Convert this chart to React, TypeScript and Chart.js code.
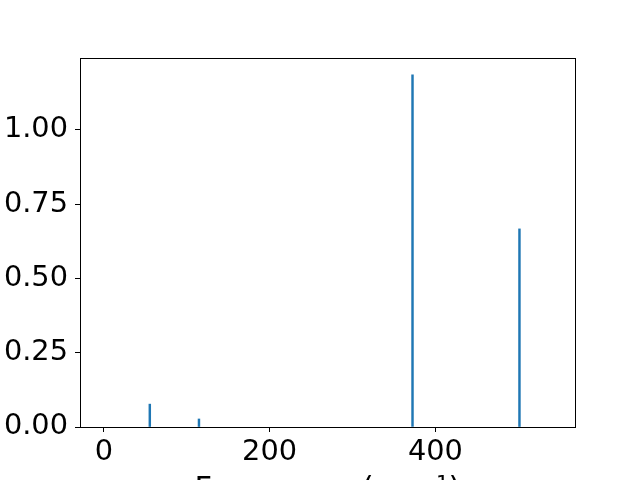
import React, { useEffect, useRef } from "react";
import { Chart, registerables } from "chart.js";

Chart.register(...registerables);

const frequencies = [55.5, 114.8, 372.4, 501.4];
const intensities = [0.077, 0.027, 1.186, 0.667];
const xTicks = [0, 200, 400];
const yTicks = [0, 0.25, 0.5, 0.75, 1.0];
const xLabel = "Frequency (cm⁻¹)";

const boxPlugin = {
  id: "box",
  afterDraw(chart: any) {
    const { ctx, chartArea } = chart;
    ctx.save();
    ctx.strokeStyle = "#000";
    ctx.lineWidth = 1;
    ctx.strokeRect(
      Math.round(chartArea.left) + 0.5,
      Math.round(chartArea.top) + 0.5,
      Math.round(chartArea.right - chartArea.left),
      Math.round(chartArea.bottom - chartArea.top)
    );
    ctx.restore();
  },
};

export default function App() {
  const ref = useRef<HTMLCanvasElement>(null);
  useEffect(() => {
    if (!ref.current) return;
    const font = { family: "DejaVu Sans", size: 28.8 };
    const titleFont = { family: "DejaVu Sans", size: 30.5 };
    const chart = new Chart(ref.current, {
      type: "bar",
      data: {
        datasets: [
          {
            data: frequencies.map((f, i) => ({ x: f, y: intensities[i] })),
            backgroundColor: "#1f77b4",
            borderWidth: 0,
            barThickness: 1.8,
          },
        ],
      },
      options: {
        responsive: false,
        animation: false,
        layout: { padding: { top: 58, right: 65, left: 0, bottom: 0 } },
        plugins: { legend: { display: false }, tooltip: { enabled: false } },
        scales: {
          x: {
            type: "linear",
            min: -28.7,
            max: 568.4,
            offset: false,
            afterBuildTicks: (s: any) => {
              s.ticks = xTicks.map((v) => ({ value: v }));
            },
            afterFit: (s: any) => {
              s.height = 81;
            },
            ticks: { font, color: "#000", padding: 3, maxRotation: 0, autoSkip: false },
            grid: { offset: false, drawOnChartArea: false, drawTicks: true, tickLength: 5, color: "#000" },
            border: { display: true, color: "#000" },
            title: { display: true, text: xLabel, font: titleFont, color: "#000", padding: 0 },
          },
          y: {
            type: "linear",
            min: 0,
            max: 1.2424,
            afterBuildTicks: (s: any) => {
              s.ticks = yTicks.map((v) => ({ value: v }));
            },
            afterFit: (s: any) => {
              s.width = 80;
            },
            ticks: {
              font,
              color: "#000",
              padding: 7,
              callback: (v: any) => Number(v).toFixed(2),
            },
            grid: { drawOnChartArea: false, drawTicks: true, tickLength: 5, color: "#000" },
            border: { display: true, color: "#000" },
          },
        },
      },
      plugins: [boxPlugin],
    });
    return () => chart.destroy();
  }, []);
  return (
    <div style={{ position: "absolute", left: 0, top: 0, width: 640, height: 480, overflow: "hidden", background: "#fff" }}>
      <canvas ref={ref} width={640} height={508} style={{ display: "block" }} />
    </div>
  );
}
